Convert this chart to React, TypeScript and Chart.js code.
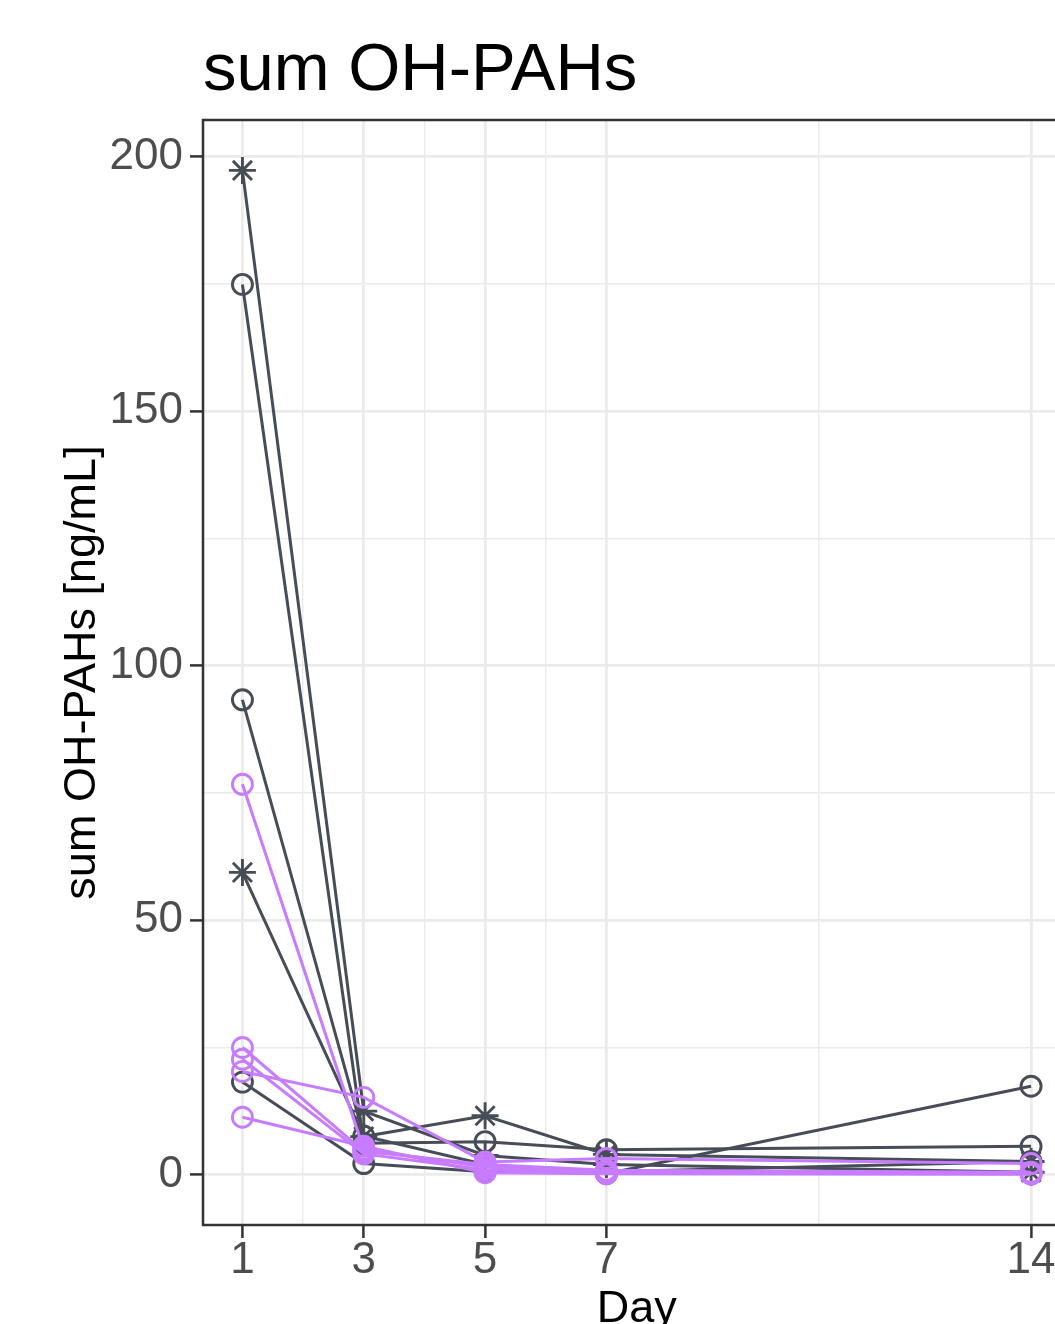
import React, { useEffect, useRef } from "react";
import { Chart, registerables } from "chart.js";

Chart.register(...registerables);

// ---- data ----
const days = [1, 3, 5, 7, 14];
const xTickValues = [1, 3, 5, 7, 14];
const xMinorValues = [2, 4, 6, 10.5];
const yTickValues = [0, 50, 100, 150, 200];
const yMinorValues = [25, 75, 125, 175];

// dark group (asterisk markers)
const darkStar1 = [197.3, 12.5, 3.8, 2.0, 0.5];
const darkStar2 = [59.4, 7.5, 11.6, 4.0, 2.6];
// dark group (circle markers)
const darkCircle1 = [174.9, 6.2, 6.5, 4.9, 5.6];
const darkCircle2 = [93.3, 7.6, 2.0, 0.2, 17.4];
const darkCircle3 = [18.2, 2.2, 0.6, 0.6, 2.6];
// purple group (circle markers)
const purple1 = [76.7, 5.0, 1.5, 0.6, 0.3];
const purple2 = [25.0, 4.6, 2.0, 0.9, 0.5];
const purple3 = [22.7, 4.1, 1.0, 0.3, 0.2];
const purple4 = [20.3, 15.2, 2.5, 3.2, 2.2];
const purple5 = [11.3, 5.6, 0.4, 0.2, 0.1];

const titleText = "sum OH-PAHs";
const xTitle = "Day";
const yTitle = "sum OH-PAHs [ng/mL]";

const DARK = "#474D57";
const PURPLE = "#C77CFF";
const FONT = "'Liberation Sans', Arial, Helvetica, sans-serif";

const groups = [
  { name: "d1", values: darkStar1, color: DARK, shape: "star", order: 1 },
  { name: "d2", values: darkStar2, color: DARK, shape: "star", order: 1 },
  { name: "d3", values: darkCircle1, color: DARK, shape: "circle", order: 1 },
  { name: "d4", values: darkCircle2, color: DARK, shape: "circle", order: 1 },
  { name: "d5", values: darkCircle3, color: DARK, shape: "circle", order: 1 },
  { name: "p1", values: purple1, color: PURPLE, shape: "circle", order: 0 },
  { name: "p2", values: purple2, color: PURPLE, shape: "circle", order: 0 },
  { name: "p3", values: purple3, color: PURPLE, shape: "circle", order: 0 },
  { name: "p4", values: purple4, color: PURPLE, shape: "circle", order: 0 },
  { name: "p5", values: purple5, color: PURPLE, shape: "circle", order: 0 },
];

const panelBorder = {
  id: "panelBorder",
  afterDraw(chart: any) {
    const { ctx, chartArea } = chart;
    const { left, top, right, bottom } = chartArea;
    ctx.save();
    ctx.strokeStyle = "#333333";
    ctx.lineWidth = 2.5;
    ctx.strokeRect(left, top, right - left, bottom - top);
    ctx.restore();
  },
};

export default function App() {
  const ref = useRef<HTMLCanvasElement>(null);

  useEffect(() => {
    if (!ref.current) return;
    const datasets = groups.map((g) => ({
      label: g.name,
      data: days.map((d, i) => ({ x: d, y: g.values[i] })),
      borderColor: g.color,
      backgroundColor: "rgba(0,0,0,0)",
      borderWidth: 3,
      pointStyle: g.shape,
      pointRadius: g.shape === "star" ? 13.5 : 10,
      pointBorderWidth: 2.9,
      pointBorderColor: g.color,
      pointBackgroundColor: "rgba(0,0,0,0)",
      tension: 0,
      order: g.order,
      clip: false,
    }));

    const isMajorX = (v: number) => xTickValues.includes(v);
    const isMajorY = (v: number) => yTickValues.includes(v);

    const chart = new Chart(ref.current, {
      type: "line",
      data: { datasets } as any,
      plugins: [panelBorder],
      options: {
        animation: false,
        responsive: false,
        devicePixelRatio: 1,
        layout: { padding: { left: 0, right: 29.5, top: 0, bottom: 0 } },
        plugins: {
          legend: { display: false },
          tooltip: { enabled: false },
          title: {
            display: true,
            text: titleText,
            align: "start",
            fullSize: false,
            color: "#000000",
            font: { family: FONT, size: 67, weight: "normal", lineHeight: 1.2 },
            padding: { top: 31, bottom: 8.6 },
          },
        },
        scales: {
          x: {
            type: "linear",
            min: 0.35,
            max: 14.65,
            afterBuildTicks: (s: any) => {
              s.ticks = [...xTickValues, ...xMinorValues]
                .sort((a, b) => a - b)
                .map((v) => ({ value: v }));
            },
            afterFit: (s: any) => {
              s.height = 99;
            },
            border: { display: false },
            grid: {
              color: "#EBEBEB",
              lineWidth: (c: any) => (isMajorX(c.tick?.value) ? 2.8 : 1.4),
              tickColor: (c: any) => (isMajorX(c.tick?.value) ? "#333333" : "rgba(0,0,0,0)"),
              tickLength: 13,
              tickWidth: 2.5,
              drawTicks: true,
            },
            ticks: {
              autoSkip: false,
              maxRotation: 0,
              minRotation: 0,
              padding: -4,
              color: "#4D4D4D",
              font: { family: FONT, size: 44 },
              callback: (v: any) => (isMajorX(Number(v)) ? String(v) : ""),
            },
            title: {
              display: true,
              text: xTitle,
              color: "#000000",
              font: { family: FONT, size: 45, lineHeight: 0.6 },
              padding: { top: 0, bottom: 0.5 },
            },
          },
          y: {
            type: "linear",
            min: -9.87,
            max: 207.2,
            afterBuildTicks: (s: any) => {
              s.ticks = [...yTickValues, ...yMinorValues]
                .sort((a, b) => a - b)
                .map((v) => ({ value: v }));
            },
            afterFit: (s: any) => {
              s.width = 203;
            },
            border: { display: false },
            grid: {
              color: "#EBEBEB",
              lineWidth: (c: any) => (isMajorY(c.tick?.value) ? 2.8 : 1.4),
              tickColor: (c: any) => (isMajorY(c.tick?.value) ? "#333333" : "rgba(0,0,0,0)"),
              tickLength: 13,
              tickWidth: 2.5,
              drawTicks: true,
            },
            ticks: {
              autoSkip: false,
              padding: 7,
              color: "#4D4D4D",
              font: { family: FONT, size: 44 },
              callback: (v: any) => (isMajorY(Number(v)) ? String(v) : ""),
            },
            title: {
              display: true,
              text: yTitle,
              color: "#000000",
              font: { family: FONT, size: 45, lineHeight: 1.2 },
              padding: { top: 56, bottom: 0 },
            },
          },
        },
      } as any,
    });
    return () => chart.destroy();
  }, []);

  return (
    <div
      style={{
        position: "fixed",
        left: 0,
        top: 0,
        width: 1055,
        height: 1324,
        overflow: "hidden",
        background: "#ffffff",
      }}
    >
      <canvas
        ref={ref}
        width={1100}
        height={1324}
        style={{ display: "block", width: 1100, height: 1324 }}
      />
    </div>
  );
}
